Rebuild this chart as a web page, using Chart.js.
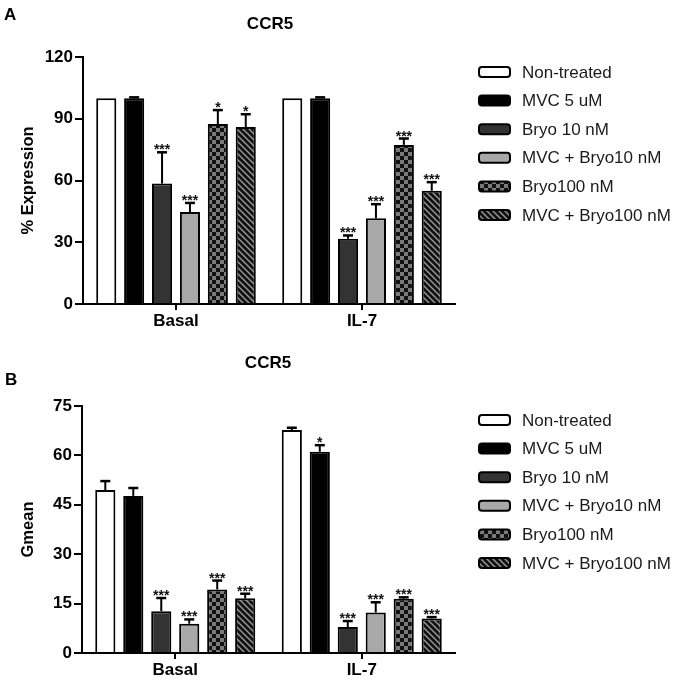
<!DOCTYPE html>
<html><head><meta charset="utf-8">
<script src="https://cdn.jsdelivr.net/npm/chart.js@4/dist/chart.umd.min.js"></script>
<style>body{margin:0;background:#fff;} canvas{position:absolute;left:0;}</style>
</head><body>
<canvas id="chartA" width="675" height="330" style="top:0px"></canvas>
<canvas id="chartB" width="675" height="356" style="top:330px"></canvas>
<script>
// ---------- DATA ----------
const categories = ['Basal', 'IL-7'];
const seriesNames = ['Non-treated', 'MVC 5 uM', 'Bryo 10 nM', 'MVC + Bryo10 nM', 'Bryo100 nM', 'MVC + Bryo100 nM'];

// Panel A: % Expression
const aYTicks = [0, 30, 60, 90, 120];
const aNonTreated = [100, 100];
const aMvc = [100, 100];
const aBryo10 = [58.5, 31.7];
const aMvcBryo10 = [44.7, 41.6];
const aBryo100 = [87.4, 77.3];
const aMvcBryo100 = [86.0, 55.0];
const aNonTreatedErr = [0, 0];
const aMvcErr = [0.4, 0.4];
const aBryo10Err = [15.2, 1.6];
const aMvcBryo10Err = [4.4, 6.9];
const aBryo100Err = [6.8, 3.1];
const aMvcBryo100Err = [6.2, 4.2];
const aNonTreatedSig = ['', ''];
const aMvcSig = ['', ''];
const aBryo10Sig = ['***', '***'];
const aMvcBryo10Sig = ['***', '***'];
const aBryo100Sig = ['*', '***'];
const aMvcBryo100Sig = ['*', '***'];

// Panel B: Gmean
const bYTicks = [0, 15, 30, 45, 60, 75];
const bNonTreated = [49.5, 67.7];
const bMvc = [47.7, 61.1];
const bBryo10 = [12.7, 7.9];
const bMvcBryo10 = [8.9, 12.3];
const bBryo100 = [19.3, 16.5];
const bMvcBryo100 = [16.6, 10.5];
const bNonTreatedErr = [2.7, 0.7];
const bMvcErr = [2.4, 2.0];
const bBryo10Err = [4.0, 1.8];
const bMvcBryo10Err = [1.3, 3.1];
const bBryo100Err = [2.7, 0.4];
const bMvcBryo100Err = [1.4, 0.4];
const bNonTreatedSig = ['', ''];
const bMvcSig = ['', '*'];
const bBryo10Sig = ['***', '***'];
const bMvcBryo10Sig = ['***', '***'];
const bBryo100Sig = ['***', '***'];
const bMvcBryo100Sig = ['***', '***'];

// ---------- STYLES ----------
const FONT = "'Liberation Sans', Arial, sans-serif";
function checkerPattern() {
  const c = document.createElement('canvas'); c.width = 8; c.height = 8;
  const x = c.getContext('2d');
  x.fillStyle = '#111'; x.fillRect(0, 0, 8, 8);
  x.fillStyle = '#7a7a7a'; x.fillRect(0, 0, 4, 4); x.fillRect(4, 4, 4, 4);
  return x.createPattern(c, 'repeat');
}
function stripePattern() {
  const c = document.createElement('canvas'); c.width = 6; c.height = 6;
  const x = c.getContext('2d');
  x.fillStyle = '#111'; x.fillRect(0, 0, 6, 6);
  x.strokeStyle = '#9a9a9a'; x.lineWidth = 1.4;
  x.beginPath();
  x.moveTo(-3, -3); x.lineTo(9, 9);
  x.moveTo(-3, 3); x.lineTo(3, 9);
  x.moveTo(3, -3); x.lineTo(9, 3);
  x.stroke();
  return x.createPattern(c, 'repeat');
}
const fills = ['#ffffff', '#000000', '#333333', '#a8a8a8', checkerPattern(), stripePattern()];

function buildDatasets(values, errs, sigs) {
  return values.map((v, i) => ({
    label: seriesNames[i],
    data: v,
    errs: errs[i],
    sigs: sigs[i],
    backgroundColor: fills[i],
    borderColor: '#000',
    borderWidth: 2,
    borderSkipped: 'start',
    barPercentage: 0.72,
    categoryPercentage: 0.9
  }));
}

function decorPlugin(cfg) {
  return {
    id: 'decor',
    afterDatasetsDraw(chart) {
      const ctx = chart.ctx, ys = chart.scales.y;
      ctx.save();
      chart.data.datasets.forEach((ds, i) => {
        const meta = chart.getDatasetMeta(i);
        meta.data.forEach((bar, j) => {
          const v = ds.data[j], e = ds.errs[j];
          const yTop = ys.getPixelForValue(v);
          const yE = ys.getPixelForValue(v + e);
          if (e > 0) {
            ctx.strokeStyle = '#000'; ctx.lineWidth = 2;
            ctx.beginPath(); ctx.moveTo(bar.x, yTop); ctx.lineTo(bar.x, yE); ctx.stroke();
            ctx.lineWidth = 2.5;
            ctx.beginPath(); ctx.moveTo(bar.x - 5, yE); ctx.lineTo(bar.x + 5, yE); ctx.stroke();
          }
          const s = ds.sigs[j];
          if (s) {
            ctx.fillStyle = '#111';
            ctx.font = 'bold 14px ' + FONT;
            ctx.textAlign = 'center'; ctx.textBaseline = 'alphabetic';
            ctx.fillText(s, bar.x, yE + 2);
          }
        });
      });
      ctx.restore();
    },
    afterDraw(chart) {
      const ctx = chart.ctx;
      ctx.save();
      // title and panel letter
      ctx.fillStyle = '#000';
      ctx.font = 'bold 17px ' + FONT;
      ctx.textAlign = 'center'; ctx.textBaseline = 'middle';
      ctx.fillText(cfg.title, cfg.titleX, cfg.titleY);
      ctx.textAlign = 'left';
      ctx.fillText(cfg.letter, cfg.letterX, cfg.letterY);
      // legend
      chart.data.datasets.forEach((ds, i) => {
        const y = cfg.legendTop + i * cfg.legendStep;
        const bx = 479, bw = 31, bh = 10, r = 3;
        ctx.beginPath();
        ctx.roundRect(bx, y - bh / 2, bw, bh, r);
        ctx.fillStyle = ds.backgroundColor; ctx.fill();
        ctx.lineWidth = 2; ctx.strokeStyle = '#000'; ctx.stroke();
        ctx.fillStyle = '#1a1a1a';
        ctx.font = '17px ' + FONT;
        ctx.textAlign = 'left'; ctx.textBaseline = 'middle';
        ctx.fillText(ds.label, 522, y + 1);
      });
      ctx.restore();
    }
  };
}

function makeChart(id, values, errs, sigs, yTicks, yTitle, padTop, xHeight, cfg) {
  const maxV = yTicks[yTicks.length - 1];
  return new Chart(document.getElementById(id), {
    type: 'bar',
    data: { labels: categories, datasets: buildDatasets(values, errs, sigs) },
    options: {
      responsive: false,
      animation: false,
      layout: { padding: { left: 0, right: 220, top: padTop, bottom: 0 } },
      plugins: { legend: { display: false }, tooltip: { enabled: false }, title: { display: false } },
      scales: {
        x: {
          grid: { display: true, drawOnChartArea: false, offset: false, tickLength: 6, color: '#000', lineWidth: 2 },
          border: { display: true, color: '#000', width: 2 },
          ticks: { color: '#000', font: { family: FONT, size: 17, weight: 'bold' }, padding: 1 },
          afterFit: s => { s.height = xHeight; }
        },
        y: {
          min: 0, max: maxV,
          afterBuildTicks: s => { s.ticks = yTicks.map(v => ({ value: v })); },
          grid: { display: true, drawOnChartArea: false, tickLength: 8, color: '#000', lineWidth: 2 },
          border: { display: true, color: '#000', width: 2 },
          ticks: { color: '#000', font: { family: FONT, size: 17, weight: 'bold' }, padding: 2 },
          title: { display: true, text: yTitle, color: '#000', font: { family: FONT, size: 16.5, weight: 'bold' }, padding: { top: 19, bottom: 0 } },
          afterFit: s => { s.width = cfg.axisX; }
        }
      }
    },
    plugins: [decorPlugin(cfg)]
  });
}

makeChart('chartA',
  [aNonTreated, aMvc, aBryo10, aMvcBryo10, aBryo100, aMvcBryo100],
  [aNonTreatedErr, aMvcErr, aBryo10Err, aMvcBryo10Err, aBryo100Err, aMvcBryo100Err],
  [aNonTreatedSig, aMvcSig, aBryo10Sig, aMvcBryo10Sig, aBryo100Sig, aMvcBryo100Sig],
  aYTicks, '% Expression', 57, 26,
  { axisX: 83, title: 'CCR5', titleX: 270, titleY: 24, letter: 'A', letterX: 4, letterY: 15, legendTop: 72, legendStep: 28.6 });

makeChart('chartB',
  [bNonTreated, bMvc, bBryo10, bMvcBryo10, bBryo100, bMvcBryo100],
  [bNonTreatedErr, bMvcErr, bBryo10Err, bMvcBryo10Err, bBryo100Err, bMvcBryo100Err],
  [bNonTreatedSig, bMvcSig, bBryo10Sig, bMvcBryo10Sig, bBryo100Sig, bMvcBryo100Sig],
  bYTicks, 'Gmean', 76, 33,
  { axisX: 82, title: 'CCR5', titleX: 268, titleY: 33, letter: 'B', letterX: 5, letterY: 50, legendTop: 90, legendStep: 28.6 });
</script>
</body></html>
